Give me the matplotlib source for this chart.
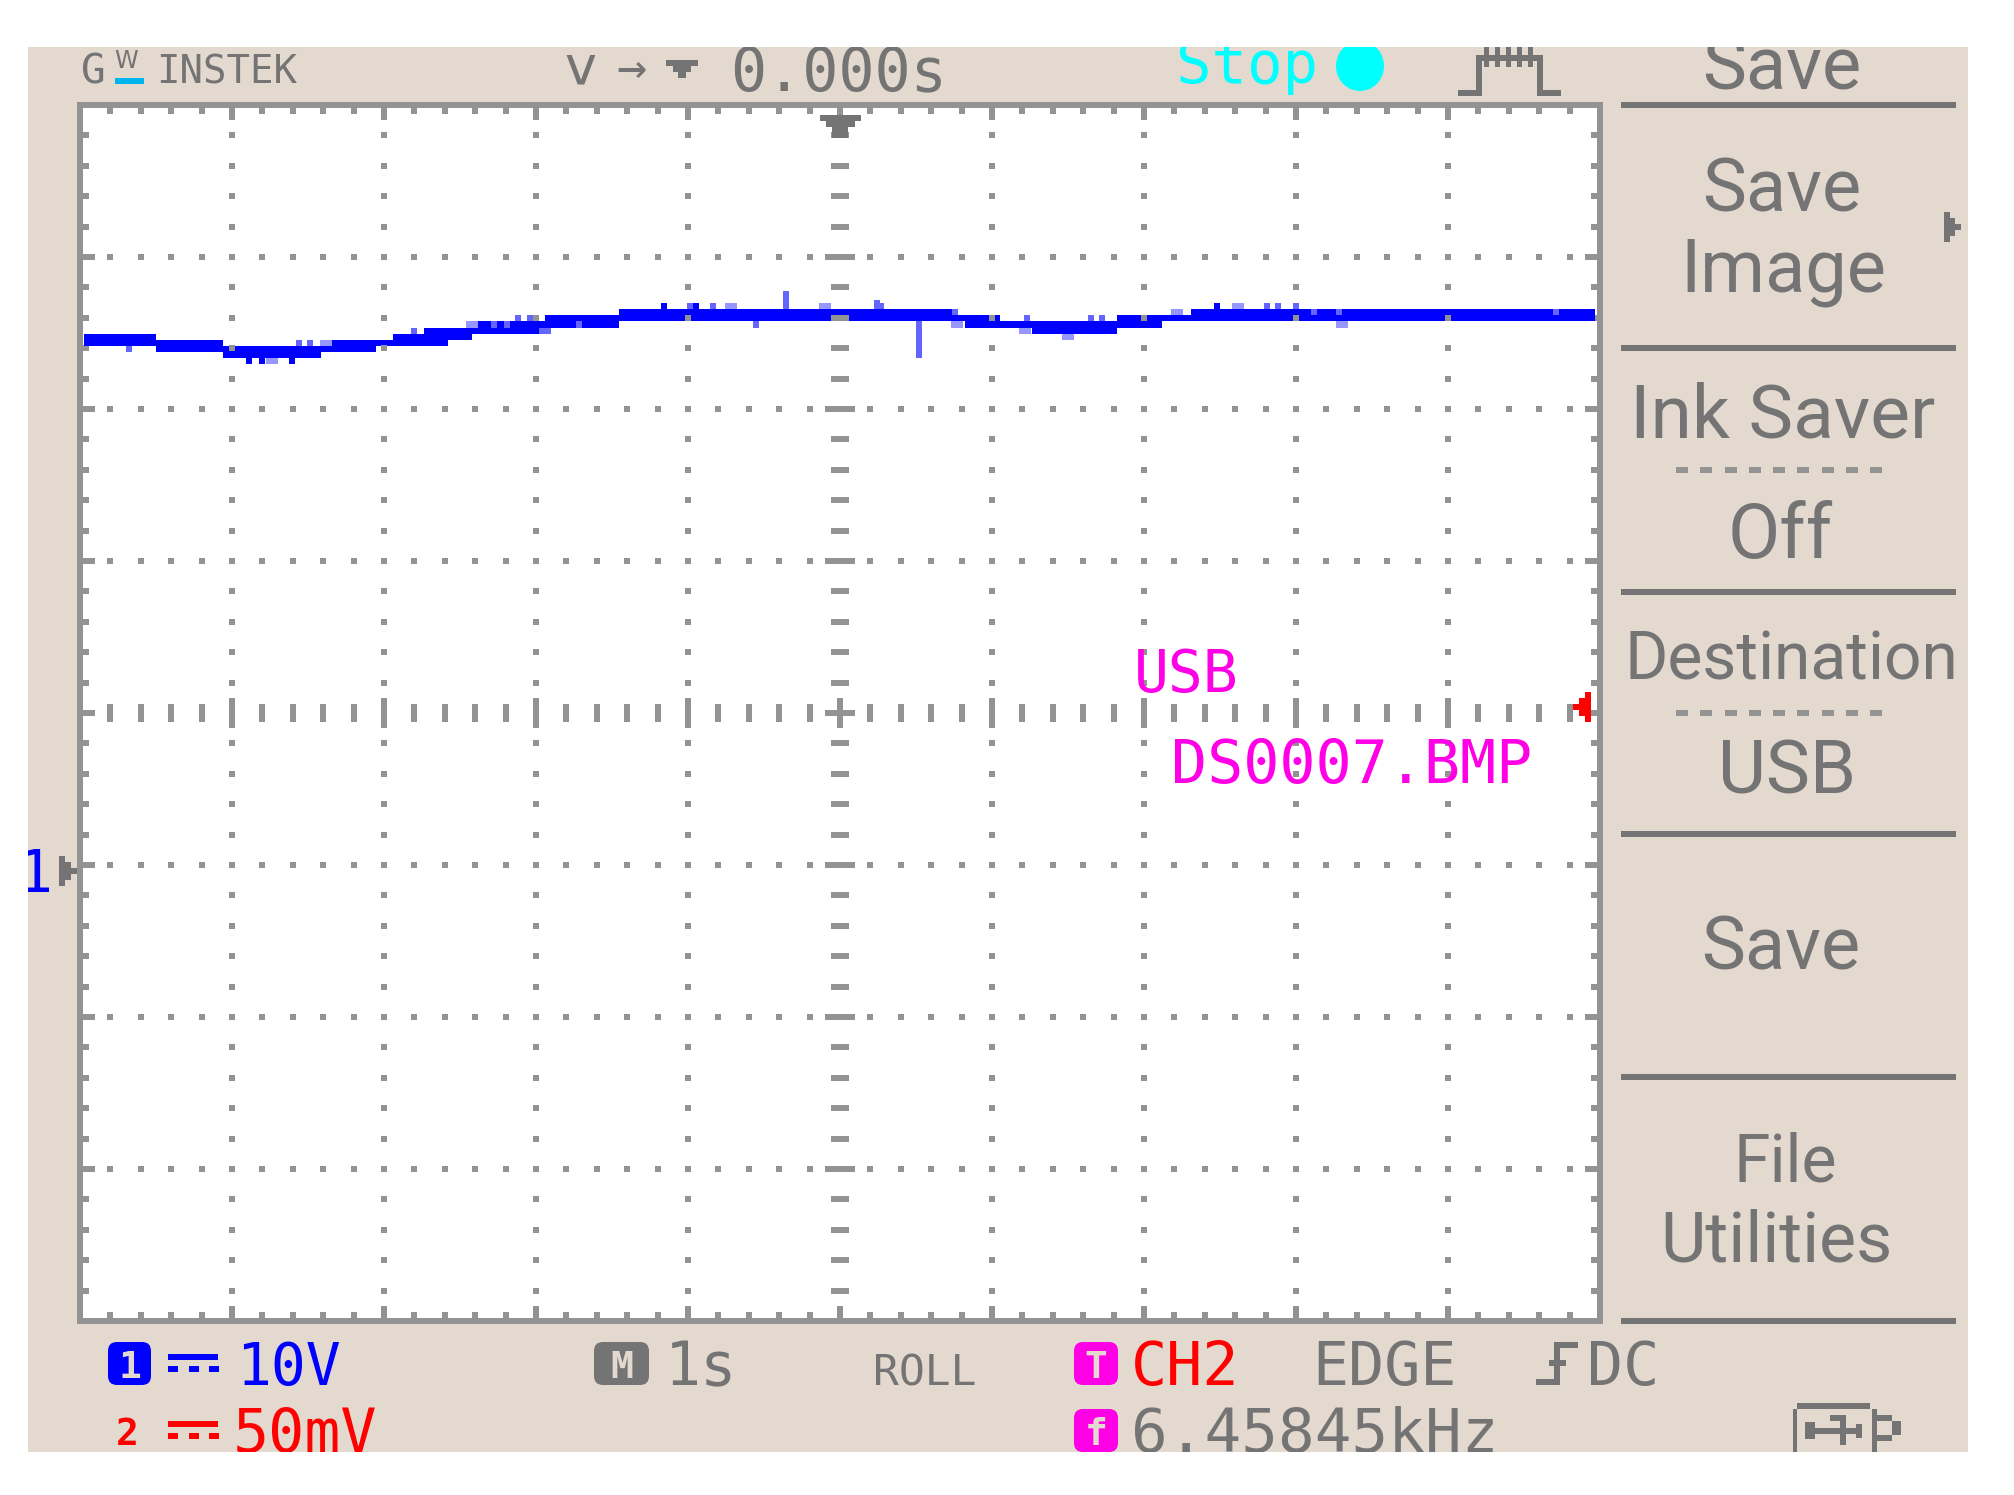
import matplotlib
matplotlib.use("Agg")
import matplotlib.pyplot as plt
from matplotlib import font_manager as fm
from matplotlib.patches import Rectangle, Polygon, Ellipse, FancyBboxPatch

# ---- data: channel 1 trace, 1 s/div, 10 V/div, values in s and V
trace_t = [-4.975, -4.50, -4.06, -3.415, -3.05, -2.94, -2.737, -2.58, -2.42, -1.94, -1.456,
           0.737, 0.82, 1.053, 1.265, 1.69, 1.82, 2.12, 2.31, 4.97]
trace_hi = [24.96, 24.56, 24.16, 24.56, 24.56, 24.96, 25.36, 25.36, 25.76, 26.16, 26.56,
            26.16, 26.16, 25.76, 25.76, 25.76, 26.16, 26.16, 26.56, 26.56]
trace_lo = [24.16, 23.76, 23.36, 23.76, 24.16, 24.16, 24.16, 24.56, 24.96, 25.36, 25.76,
            25.76, 25.36, 25.36, 24.96, 24.96, 25.36, 25.76, 25.76, 25.76]
# narrow excursions: time, low, high
dark_t = [-1.16, -0.95, -3.89, -3.80, -3.605, 2.48]
dark_lo = [26.56, 26.56, 22.96, 22.96, 22.96, 26.56]
dark_hi = [26.96, 26.96, 23.36, 23.36, 23.36, 26.96]
spike_t = [-0.355, 0.243, 0.27, 0.52, -0.99, -0.835, -0.555, -4.68, -3.56, -3.485, -2.80,
           -2.12, -2.04, -2.275, -2.19, -1.96, -1.92, -1.72, 0.755, 1.23, 1.65, 1.725,
           2.81, 2.88, 3.0, 3.12, 3.28, 4.71]
spike_lo = [26.56, 26.56, 26.56, 23.36, 26.56, 26.56, 25.36, 23.76, 24.16, 24.16, 24.96,
            25.76, 25.76, 25.36, 25.36, 24.96, 24.96, 25.36, 26.16, 25.76, 25.76, 25.76,
            26.56, 26.56, 26.56, 26.16, 26.16, 26.16]
spike_hi = [27.74, 27.16, 26.96, 25.76, 26.96, 26.96, 25.76, 24.16, 24.56, 24.56, 25.36,
            26.16, 26.16, 25.76, 25.76, 25.36, 25.36, 25.76, 26.56, 26.16, 26.16, 26.16,
            26.96, 26.96, 26.96, 26.56, 26.56, 26.56]
wide_t = [-0.10, -0.72, -3.74, -3.38, -2.42, 2.22, 2.62, 0.77, 1.5, 1.22, 3.3]
wide_lo = [26.56, 26.56, 22.96, 24.16, 25.36, 26.16, 26.56, 25.36, 24.56, 24.96, 25.36]
wide_hi = [26.96, 26.96, 23.36, 24.56, 25.76, 26.56, 26.96, 25.76, 24.96, 25.36, 25.76]

t_ticks_major = list(range(-5, 6))
v_ticks_major = list(range(-40, 41, 10))

W, H = 2015, 1495
BEIGE = "#e3d9cf"
GRID = "#939393"
TXT = "#747474"
BLUE = "#0000ff"
RED = "#ff0000"
MAG = "#ff00e6"
CYAN = "#00ffff"
LIGHT = "#6464ff"
PALE = "#9696ff"
MONO = "DejaVu Sans Mono"
names = {f.name for f in fm.fontManager.ttflist}
MENU = "Liberation Sans Narrow" if "Liberation Sans Narrow" in names else "Roboto"
px = 0.72  # points per pixel at dpi 100

fig = plt.figure(figsize=(W / 100, H / 100), dpi=100, facecolor="white")

bg = fig.add_axes([0, 0, 1, 1], zorder=0)
bg.set_xlim(0, W); bg.set_ylim(H, 0); bg.axis("off")
panel = Rectangle((28, 47), 1940, 1405, fc=BEIGE, ec="none")
bg.add_patch(panel)

# scope graticule area, 80..1600 px and 105..1321 px
ax = fig.add_axes([80 / W, 1 - 1321 / H, 1520 / W, 1216 / H], zorder=1)
ax.set_xlim(-5, 5); ax.set_ylim(-40, 40)
ax.set_facecolor("white")
for s in ax.spines.values():
    s.set_linewidth(6 * px); s.set_color(GRID)
ax.set_xticks(t_ticks_major); ax.set_yticks(v_ticks_major)
ax.set_xticks([i * 0.2 for i in range(-25, 26)], minor=True)
ax.set_yticks([i * 2 for i in range(-20, 21)], minor=True)
ax.tick_params(which="major", direction="in", top=True, right=True, length=15 * px, width=6 * px,
               color=GRID, labelbottom=False, labelleft=False)
ax.tick_params(which="minor", direction="in", top=True, right=True, length=9 * px, width=6 * px, color=GRID)

# trace
ax.fill_between(trace_t, trace_lo, trace_hi, step="post", color=BLUE, lw=0, zorder=2)
ax.vlines(dark_t, dark_lo, dark_hi, color=BLUE, lw=6 * px, capstyle="butt", zorder=2)
ax.vlines(spike_t, spike_lo, spike_hi, color=LIGHT, lw=6 * px, capstyle="butt", zorder=2.1)
ax.vlines(wide_t, wide_lo, wide_hi, color=PALE, lw=12 * px, capstyle="butt", zorder=2.1)

# graticule
dot = dict(ls="none", marker="s", ms=6 * px, mew=0, color=GRID, zorder=3)
for x in t_ticks_major[1:-1]:
    if x == 0:
        continue
    ys = [i * 2 for i in range(-19, 20) if i != 0]
    ax.plot([x] * len(ys), ys, **dot)
for y in v_ticks_major[1:-1]:
    if y == 0:
        continue
    xs = [i * 0.2 for i in range(-24, 25) if i != 0]
    ax.plot(xs, [y] * len(xs), **dot)
# centre row ticks and centre column dashes
cw = 6 * px
for i in range(-24, 25):
    x = i * 0.2
    if i == 0:
        continue
    h = 30 if i % 5 == 0 else 18
    ax.vlines(x, -h / 15.2 / 2, h / 15.2 / 2, color=GRID, lw=cw, capstyle="butt", zorder=3)
for i in range(-19, 20):
    y = i * 2
    if i == 0:
        continue
    w = 30 if i % 5 == 0 else 18
    ax.hlines(y, -w / 152 / 2, w / 152 / 2, color=GRID, lw=cw, capstyle="butt", zorder=3)
ax.hlines(0, -15 / 152, 15 / 152, color=GRID, lw=cw, capstyle="butt", zorder=3)
ax.vlines(0, -15 / 15.2, 15 / 15.2, color=GRID, lw=cw, capstyle="butt", zorder=3)

# overlay in pixel coordinates
ov = fig.add_axes([0, 0, 1, 1], zorder=2)
ov.set_xlim(0, W); ov.set_ylim(H, 0); ov.axis("off"); ov.patch.set_alpha(0)


def text(x, y, s, em, color=TXT, ha="left", family=MONO, **kw):
    t = ov.text(x, y, s, fontsize=em * px, color=color, ha=ha, va="baseline", family=family, clip_on=True, **kw)
    t.set_clip_path(panel)
    return t


def rect(x0, y0, x1, y1, color=TXT):
    r = Rectangle((x0, y0), x1 - x0, y1 - y0, fc=color, ec="none")
    ov.add_patch(r)
    r.set_clip_path(panel)


def poly(points, color=TXT):
    p = Polygon(points, closed=True, fc=color, ec="none")
    ov.add_patch(p)


def badge(x0, y0, x1, y1, color, s):
    b = FancyBboxPatch((x0, y0), x1 - x0, y1 - y0, boxstyle="round,pad=0,rounding_size=9", fc=color, ec="none")
    ov.add_patch(b)
    b.set_clip_path(panel)
    text((x0 + x1) / 2, y1 - 7, s, 38, color=BEIGE, ha="center", fontweight="bold")


# header
text(81, 84, "G", 41)
text(114, 68, "W", 24, family="DejaVu Sans")
rect(115, 78, 144, 84, "#00b4f0")
text(156, 84, "INSTEK", 39)
text(564, 84, "v", 54, family="DejaVu Sans")
text(616, 84, "→", 50)
poly([(666, 60), (698, 60), (698, 66), (691, 66), (691, 72), (686, 72), (686, 78), (678, 78), (678, 72),
      (673, 72), (673, 66), (666, 66)])
text(730, 90, "0.000s", 60)
text(1176, 83, "Stop", 59, color=CYAN)
e = Ellipse((1360, 66), 48, 50, fc=CYAN, ec="none")
ov.add_patch(e); e.set_clip_path(panel)

# roll-mode icon
for a in [(1458, 90, 1482, 96), (1476, 57, 1482, 96), (1476, 55, 1543, 61), (1537, 57, 1543, 96), (1537, 90, 1561, 96)]:
    rect(*a)
for x in range(1484, 1538, 11):
    rect(x, 47, x + 5, 67)

# right menu
for y in [105, 348, 592, 834, 1077, 1321]:
    rect(1621, y - 3, 1956, y + 3)
for y in [470, 713]:
    for i in range(9):
        rect(1676 + i * 24.3, y - 3, 1688 + i * 24.3, y + 3, GRID)
M = 74
text(1782, 90, "Save", M, ha="center", family=MENU)
text(1782, 212, "Save", M, ha="center", family=MENU)
text(1783, 291, "Image", M, ha="center", family=MENU)
text(1783, 437, "Ink Saver", 75, ha="center", family=MENU)
text(1780, 558, "Off", 76, ha="center", family=MENU)
text(1791, 679, "Destination", 66, ha="center", family=MENU)
text(1787, 794, "USB", M, ha="center", family=MENU)
text(1781, 970, "Save", M, ha="center", family=MENU)
text(1785, 1182, "File", 66, ha="center", family=MENU)
text(1776, 1261, "Utilities", 70, ha="center", family=MENU)
poly([(1944, 212), (1950, 212), (1950, 218), (1955, 218), (1955, 224), (1961, 224), (1961, 230), (1955, 230),
      (1955, 236), (1950, 236), (1950, 242), (1944, 242)])

# save message and markers
text(1134, 692, "USB", 58, color=MAG)
text(1171, 783, "DS0007.BMP", 60, color=MAG)
poly([(1585, 692), (1591, 692), (1591, 722), (1585, 722), (1585, 716), (1579, 716), (1579, 710), (1573, 710),
      (1573, 704), (1579, 704), (1579, 698), (1585, 698)], RED)
poly([(820, 115), (861, 115), (861, 121), (855, 121), (855, 127), (848, 127), (848, 138), (832, 138), (832, 127),
      (826, 127), (826, 121), (820, 121)])
text(17, 892, "1", 58, color=BLUE)
poly([(59, 856), (65, 856), (65, 862), (71, 862), (71, 868), (77, 868), (77, 874), (71, 874), (71, 880), (65, 880),
      (65, 886), (59, 886)])

# bottom rows
badge(108, 1342, 151, 1385, BLUE, "1")
rect(168, 1354, 218, 1360, BLUE)
for x in (168, 189, 209):
    rect(x, 1366, x + 10, 1372, BLUE)
text(236, 1385, "10V", 58, color=BLUE)
text(116, 1445, "2", 38, color=RED, fontweight="bold")
rect(168, 1421, 218, 1427, RED)
for x in (168, 189, 209):
    rect(x, 1433, x + 10, 1439, RED)
text(233, 1452, "50mV", 60, color=RED)
badge(594, 1342, 649, 1385, TXT, "M")
text(665, 1385, "1s", 60)
text(873, 1385, "ROLL", 43)
badge(1074, 1342, 1118, 1385, "#ff00e6", "T")
text(1131, 1385, "CH2", 60, color=RED)
text(1312, 1385, "EDGE", 60)
for a in [(1536, 1379, 1560, 1385), (1554, 1342, 1560, 1385), (1554, 1342, 1578, 1348), (1549, 1360, 1566, 1366)]:
    rect(*a)
text(1587, 1385, "DC", 60)
badge(1074, 1409, 1118, 1452, "#ff00e6", "f")
text(1131, 1452, "6.45845kHz", 61)

# usb icon
for a in [(1797, 1403, 1870, 1409), (1793, 1409, 1797, 1452), (1872, 1409, 1877, 1452), (1877, 1415, 1892, 1421),
          (1877, 1435, 1892, 1441), (1892, 1421, 1901, 1435), (1805, 1422, 1815, 1439), (1815, 1428, 1862, 1434),
          (1830, 1415, 1846, 1421), (1840, 1421, 1846, 1428), (1840, 1434, 1846, 1445), (1856, 1424, 1862, 1438)]:
    rect(*a)

fig.savefig("out.png", dpi=100, facecolor="white")
